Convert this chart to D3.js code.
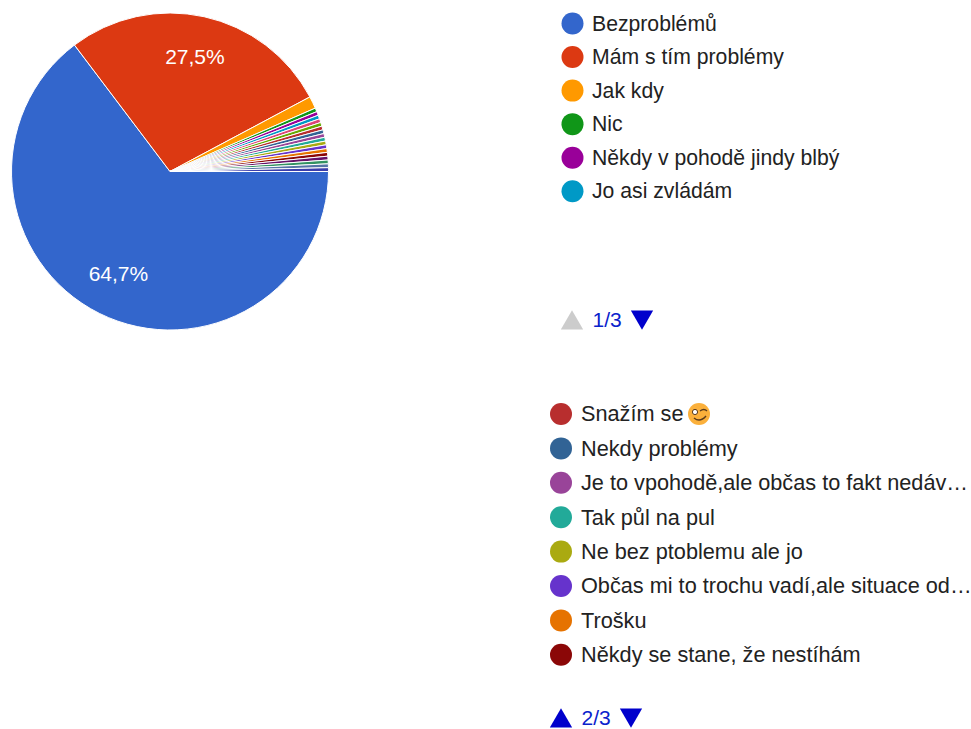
<!DOCTYPE html>
<html>
<head>
<meta charset="utf-8">
<script src="https://cdnjs.cloudflare.com/ajax/libs/d3/7.8.5/d3.min.js"></script>
<style>
  body { margin: 0; background: #fff; }
  svg { display: block; font-family: "Liberation Sans", Arial, sans-serif; }
</style>
</head>
<body>
<script>
var w = 971,
  h = 729;

// podíly výsečí v procentech
var sliceValues = [64.7, 27.5, 1.25, 0.385, 0.385, 0.385, 0.385, 0.385, 0.385, 0.385, 0.385, 0.385, 0.385, 0.385, 0.385, 0.385, 0.385, 0.385, 0.385, 0.385];
var sliceColors = ["#3366cc", "#dc3912", "#ff9900", "#109618", "#990099", "#0099c6", "#dd4477", "#66aa00", "#b82e2e", "#316395", "#994499", "#22aa99", "#aaaa11", "#6633cc", "#e67300", "#8b0707", "#651067", "#329262", "#5574a6", "#3b3eac"];
var sliceLabels = ["64,7%", "27,5%"];

// legenda, strana 1 a 2
var legend1 = ["Bezproblémů", "Mám s tím problémy", "Jak kdy", "Nic", "Někdy v pohodě jindy blbý", "Jo asi zvládám"];
var legend1Colors = ["#3366cc", "#dc3912", "#ff9900", "#109618", "#990099", "#0099c6"];
var legend2 = ["Snažím se", "Nekdy problémy", "Je to vpohodě,ale občas to fakt nedáv…", "Tak půl na pul", "Ne bez ptoblemu ale jo", "Občas mi to trochu vadí,ale situace od…", "Trošku", "Někdy se stane, že nestíhám"];
var legend2Colors = ["#b82e2e", "#316395", "#994499", "#22aa99", "#aaaa11", "#6633cc", "#e67300", "#8b0707"];

var svg = d3.select("body").append("svg").attr("width", w).attr("height", h);

// koláč začíná na východě a jde po směru hodinových ručiček
var cx = 170,
  cy = 171.5,
  r = 158.5;

var pie = d3.pie().sort(null).startAngle(Math.PI / 2).endAngle(Math.PI * 2.5);
var arc = d3.arc().innerRadius(0).outerRadius(r);
var arcs = pie(sliceValues);

var pieG = svg.append("g").attr("transform", "translate(" + cx + "," + cy + ")");

pieG
  .selectAll("path")
  .data(arcs)
  .enter()
  .append("path")
  .attr("d", arc)
  .attr("fill", function (d, i) {
    return sliceColors[i];
  })
  .attr("stroke", "#fff")
  .attr("stroke-width", 1);

var labelArc = d3.arc().innerRadius(r * 0.73).outerRadius(r * 0.73);
pieG
  .selectAll("text")
  .data(arcs.slice(0, sliceLabels.length))
  .enter()
  .append("text")
  .attr("transform", function (d) {
    return "translate(" + labelArc.centroid(d) + ")";
  })
  .attr("text-anchor", "middle")
  .attr("dy", "0.26em")
  .attr("fill", "#fff")
  .style("font-size", "21px")
  .text(function (d, i) {
    return sliceLabels[i];
  });

// jedna strana legendy
function drawLegend(names, colors, x, y0, step, fontSize, gap) {
  var y = d3.scalePoint().domain(d3.range(names.length)).range([y0, y0 + step * (names.length - 1)]);
  var g = svg.append("g");
  g.selectAll("circle")
    .data(names)
    .enter()
    .append("circle")
    .attr("cx", x)
    .attr("cy", function (d, i) {
      return y(i);
    })
    .attr("r", 11)
    .attr("fill", function (d, i) {
      return colors[i];
    });
  g.selectAll("text")
    .data(names)
    .enter()
    .append("text")
    .attr("x", x + gap)
    .attr("y", function (d, i) {
      return y(i);
    })
    .attr("dy", "0.34em")
    .attr("fill", "#222")
    .style("font-size", fontSize + "px")
    .text(function (d) {
      return d;
    });
}

drawLegend(legend1, legend1Colors, 572.5, 23.5, 33.55, 21.2, 19.5);
drawLegend(legend2, legend2Colors, 561, 414, 34.4, 21.7, 20);

// stránkování legendy
function drawPager(x, yc, text, upColor, downColor) {
  var tri = d3.symbol().type(d3.symbolTriangle).size(215);
  svg.append("path").attr("d", tri()).attr("fill", upColor)
    .attr("transform", "translate(" + x + "," + (yc + 3) + ")");
  svg.append("text").attr("x", x + 20.5).attr("y", yc).attr("dy", "0.34em")
    .attr("fill", "#0a22cc").style("font-size", "21px").text(text);
  svg.append("path").attr("d", tri()).attr("fill", downColor)
    .attr("transform", "translate(" + (x + 70) + "," + (yc - 3) + ") rotate(180)");
}
drawPager(572, 320, "1/3", "#cccccc", "#0000cc");
drawPager(561, 718, "2/3", "#0000cc", "#0000cc");

// smajlík za "Snažím se"
var emoji = svg.append("g").attr("transform", "translate(699,414)");
emoji.append("circle").attr("r", 11).attr("fill", "#fbb03b");
emoji.append("circle").attr("cx", -4).attr("cy", -2).attr("r", 2.6).attr("fill", "#fff").attr("stroke", "#5a3a1a").attr("stroke-width", 1);
emoji.append("path").attr("d", "M1,-3 Q5,-6 8,-3").attr("fill", "none").attr("stroke", "#5a3a1a").attr("stroke-width", 1.4);
emoji.append("path").attr("d", "M-5,4 Q1,9 7,2").attr("fill", "none").attr("stroke", "#5a3a1a").attr("stroke-width", 1.4);
</script>
</body>
</html>
